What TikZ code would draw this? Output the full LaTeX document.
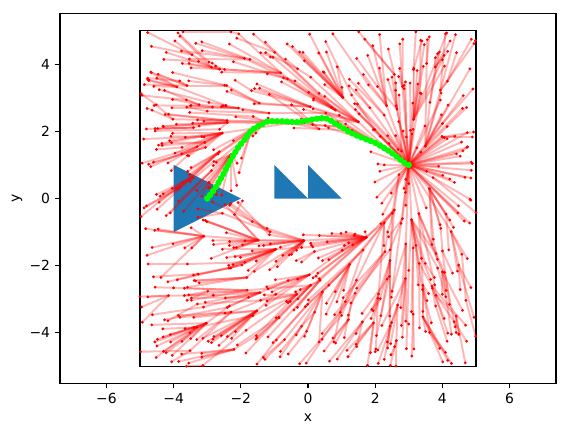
\documentclass[tikz,border=0pt]{standalone}
\usepackage{fontspec}
\setmainfont{DejaVu Sans}
\usetikzlibrary{decorations.markings}
\definecolor{obst}{RGB}{31,119,180}
\definecolor{pathgreen}{RGB}{0,255,0}
\tikzset{
  treeedge/.style={draw=red, opacity=0.28, line width=1.4pt},
  treedot/.style={fill=red},
  obstacle/.style={fill=obst},
  axframe/.style={line width=0.8pt},
  axtick/.style={line width=0.8pt},
  ticklab/.style={font=\fontsize{10}{12}\selectfont, inner sep=0pt},
  pathline/.style={draw=pathgreen, line width=2pt, line join=round,
     postaction={decorate, decoration={markings,
        mark=between positions 0 and 1 step 3.6pt with {\fill[pathgreen] (0,0) circle[radius=2.3pt];}}}},
}
\makeatletter
\newcount\rt@n \newcount\rt@j \newcount\rt@px \newcount\rt@py
\newcount\rt@dx \newcount\rt@dy \newcount\rt@d \newcount\rt@c
\newcount\rt@best \newcount\rt@bestj \newcount\rt@R \newcount\rt@samples
\newcount\rt@ax \newcount\rt@ay \newcount\rt@bx \newcount\rt@by
\newcount\rt@oa \newcount\rt@ob \newcount\rt@oc \newcount\rt@od
\newcount\rt@K \newcount\rt@newc
\newif\ifrt@free \newif\ifrt@ok \newif\ifrt@test
\def\rt@target{820}
\def\rt@X#1{\csname rt@x\number#1\endcsname}
\def\rt@Y#1{\csname rt@y\number#1\endcsname}
\def\rt@C#1{\csname rt@c\number#1\endcsname}
\def\rt@P#1{\csname rt@p\number#1\endcsname}
\def\rt@add#1#2#3#4{%
  \expandafter\edef\csname rt@x\the\rt@n\endcsname{\the\numexpr#1\relax}%
  \expandafter\edef\csname rt@y\the\rt@n\endcsname{\the\numexpr#2\relax}%
  \expandafter\edef\csname rt@c\the\rt@n\endcsname{\the\numexpr#3\relax}%
  \expandafter\edef\csname rt@p\the\rt@n\endcsname{\the\numexpr#4\relax}%
  \advance\rt@n by 1\relax}
\def\rt@absdist{%
  \ifnum\rt@dx<0 \rt@dx=-\rt@dx\fi
  \ifnum\rt@dy<0 \rt@dy=-\rt@dy\fi
  \ifnum\rt@dx>\rt@dy
    \rt@d=\numexpr(\rt@dx*123+\rt@dy*51)/128\relax
  \else
    \rt@d=\numexpr(\rt@dy*123+\rt@dx*51)/128\relax
  \fi}
\def\rt@sg#1{\ifnum#1<0 -1\else\ifnum#1>0 1\else 0 \fi\fi}
\def\rt@edge#1#2#3#4{%
  \ifrt@free
    \rt@oa=\numexpr(\rt@bx-\rt@ax)*(#2-\rt@ay)-(\rt@by-\rt@ay)*(#1-\rt@ax)\relax
    \rt@ob=\numexpr(\rt@bx-\rt@ax)*(#4-\rt@ay)-(\rt@by-\rt@ay)*(#3-\rt@ax)\relax
    \ifnum\numexpr\rt@sg\rt@oa*\rt@sg\rt@ob\relax<1
      \rt@oc=\numexpr(#3-#1)*(\rt@ay-#2)-(#4-#2)*(\rt@ax-#1)\relax
      \rt@od=\numexpr(#3-#1)*(\rt@by-#2)-(#4-#2)*(\rt@bx-#1)\relax
      \ifnum\numexpr\rt@sg\rt@oc*\rt@sg\rt@od\relax<1
        \rt@freefalse
      \fi
    \fi
  \fi}
\def\rt@segfree#1#2{%
  \rt@freetrue
  \rt@ax=\rt@px \rt@ay=\rt@py
  \rt@bx=#1\relax \rt@by=#2\relax
  \rt@testtrue
  \ifnum\rt@ax>200 \ifnum\rt@bx>200 \rt@testfalse\fi\fi
  \ifnum\rt@ax<-190 \ifnum\rt@bx<-190 \rt@testfalse\fi\fi
  \ifnum\rt@ay>215 \ifnum\rt@by>215 \rt@testfalse\fi\fi
  \ifnum\rt@ay<-95 \ifnum\rt@by<-95 \rt@testfalse\fi\fi
  \ifrt@test
    \rt@edge{-190}{-30}{-100}{-95}%
    \rt@edge{-100}{-95}{195}{-95}%
    \rt@edge{195}{-95}{200}{130}%
    \rt@edge{200}{130}{90}{200}%
    \rt@edge{90}{200}{-110}{215}%
    \rt@edge{-110}{215}{-175}{175}%
    \rt@edge{-175}{175}{-190}{-30}%
  \fi}
\def\rt@side#1#2#3#4{%
  \ifnum\numexpr(#3-#1)*(\rt@py-#2)-(#4-#2)*(\rt@px-#1)\relax<0 \rt@testfalse\fi}
\def\rt@inzone{%
  \rt@testtrue
  \rt@side{-190}{-30}{-100}{-95}%
  \rt@side{-100}{-95}{195}{-95}%
  \rt@side{195}{-95}{200}{130}%
  \rt@side{200}{130}{90}{200}%
  \rt@side{90}{200}{-110}{215}%
  \rt@side{-110}{215}{-175}{175}%
  \rt@side{-175}{175}{-190}{-30}%
  \ifrt@test \rt@okfalse\fi}
\def\rt@checkA{%
  \rt@dx=\numexpr\rt@px-\rt@X\rt@j\relax
  \rt@dy=\numexpr\rt@py-\rt@Y\rt@j\relax
  \rt@absdist
  \ifnum\rt@d<\rt@R
    \rt@c=\numexpr\rt@C\rt@j+\rt@d\relax
    \ifnum\rt@c<\rt@best
      \rt@segfree{\rt@X\rt@j}{\rt@Y\rt@j}%
      \ifrt@free \rt@best=\rt@c \rt@bestj=\rt@j \fi
    \fi
  \fi}
\def\rt@checkB{%
  \rt@dx=\numexpr\rt@px-\rt@X\rt@j\relax
  \rt@dy=\numexpr\rt@py-\rt@Y\rt@j\relax
  \rt@absdist
  \ifnum\rt@d<\rt@R
    \rt@c=\numexpr\rt@newc+\rt@d\relax
    \ifnum\rt@c<\rt@C\rt@j\relax
      \rt@segfree{\rt@X\rt@j}{\rt@Y\rt@j}%
      \ifrt@free
        \expandafter\edef\csname rt@c\the\rt@j\endcsname{\the\rt@c}%
        \expandafter\edef\csname rt@p\the\rt@j\endcsname{\the\numexpr\rt@n-1\relax}%
      \fi
    \fi
  \fi}
\def\rt@rewire{%
  \rt@newc=\rt@best
  \rt@j=\rt@K
  \loop\ifnum\rt@j<\numexpr\rt@n-1\relax
    \rt@checkB
    \advance\rt@j by 1
  \repeat}
\def\rt@setR{\ifnum\rt@n<150 \rt@R=300 \else\ifnum\rt@n<400 \rt@R=230 \else \rt@R=190 \fi\fi}
\def\rt@onesample{%
  \pgfmathrandominteger{\rt@tmp}{-500}{500}\rt@px=\rt@tmp\relax
  \pgfmathrandominteger{\rt@tmp}{-500}{500}\rt@py=\rt@tmp\relax
  \rt@oktrue
  \rt@inzone
  \ifrt@ok
    \rt@setR
    \rt@best=2147483647 \rt@bestj=-1 \rt@j=0
    \loop\ifnum\rt@j<\rt@n \rt@checkA \advance\rt@j by 1 \repeat
    \ifnum\rt@bestj>-1
      \rt@add{\rt@px}{\rt@py}{\rt@best}{\rt@bestj}%
      \rt@rewire
    \fi
  \fi}
\def\rt@run{%
  \ifnum\rt@n<\rt@target\relax
    \ifnum\rt@samples<6000
      \rt@onesample
      \advance\rt@samples by 1
      \expandafter\expandafter\expandafter\rt@run
    \fi
  \fi}
\def\rt@addpath#1#2{%
  \rt@px=#1\relax \rt@py=#2\relax
  \rt@j=\numexpr\rt@n-1\relax
  \rt@dx=\numexpr\rt@px-\rt@X\rt@j\relax
  \rt@dy=\numexpr\rt@py-\rt@Y\rt@j\relax
  \rt@absdist
  \rt@add{\rt@px}{\rt@py}{\rt@C\rt@j+\rt@d}{\rt@j}}
\def\rt@generate{%
  \pgfmathsetseed{4242}%
  \rt@n=0 \rt@samples=0
  \rt@add{300}{100}{0}{0}%
  \rt@addpath{290}{104}\rt@addpath{253}{133}\rt@addpath{239}{143}%
  \rt@addpath{200}{166}\rt@addpath{173}{176}\rt@addpath{143}{188}%
  \rt@addpath{114}{203}\rt@addpath{99}{213}\rt@addpath{74}{227}%
  \rt@addpath{64}{235}\rt@addpath{49}{240}\rt@addpath{24}{237}%
  \rt@addpath{-20}{229}\rt@addpath{-35}{227}\rt@addpath{-80}{230}%
  \rt@addpath{-119}{230}\rt@addpath{-149}{215}\rt@addpath{-169}{203}%
  \rt@addpath{-189}{175}\rt@addpath{-206}{155}\rt@addpath{-228}{119}%
  \rt@addpath{-251}{74}\rt@addpath{-278}{28}\rt@addpath{-300}{0}%
  \rt@K=\rt@n
  \rt@run}
\def\rt@drawtree{%
  \rt@j=1
  \loop\ifnum\rt@j<\rt@n
    \edef\rt@tmpa{\noexpand\draw[treeedge] (\rt@X\rt@j,\rt@Y\rt@j) -- (\rt@X{\rt@P\rt@j},\rt@Y{\rt@P\rt@j});}%
    \rt@tmpa
    \advance\rt@j by 1
  \repeat}
\def\rt@drawdots{%
  \rt@j=0
  \loop\ifnum\rt@j<\rt@n
    \edef\rt@tmpa{\noexpand\fill[treedot] (\rt@X\rt@j,\rt@Y\rt@j) circle[radius=1.1pt];}%
    \rt@tmpa
    \advance\rt@j by 1
  \repeat}
\let\RTgenerate\rt@generate
\let\RTdrawtree\rt@drawtree
\let\RTdrawdots\rt@drawdots
\makeatother
\begin{document}
\begin{tikzpicture}[x=24.192pt,y=24.192pt]
\useasboundingbox (-9.1667,-7.0685) rectangle (7.7679,5.9077);
\fill[white] (-9.1667,-7.0685) rectangle (7.7679,5.9077);
\RTgenerate
\draw[line width=1.4pt] (-5,-5) rectangle (5,5);
\fill[obstacle] (-4,1) -- (-4,-1) -- (-2,0) -- cycle;
\fill[obstacle] (-1,0) -- (0,0) -- (-1,1) -- cycle;
\fill[obstacle] (0,0) -- (1,0) -- (0,1) -- cycle;
\begin{scope}[x=0.24192pt,y=0.24192pt]
 \RTdrawtree
 \RTdrawdots
\end{scope}
\draw[pathline] plot coordinates {(3.00,1.00) (2.90,1.04) (2.53,1.33) (2.39,1.43) (2.00,1.66) (1.73,1.76) (1.43,1.88) (1.14,2.03) (0.99,2.13) (0.74,2.27) (0.64,2.35) (0.49,2.40) (0.24,2.37) (-0.20,2.29) (-0.35,2.27) (-0.80,2.30) (-1.19,2.30) (-1.49,2.15) (-1.69,2.03) (-1.89,1.75) (-2.06,1.55) (-2.28,1.19) (-2.51,0.74) (-2.78,0.28) (-3.00,0.00)};
\fill[pathgreen] (-3,0) circle[radius=2.3pt];
\draw[axframe] (-7.38,-5.5) rectangle (7.38,5.5);
\foreach \v/\t in {-6/−6,-4/−4,-2/−2,0/0,2/2,4/4,6/6} {
  \draw[axtick] (\v,-5.5) -- ++(0,-3.5pt);
  \node[ticklab, anchor=north] (xt\v) at ([yshift=-7pt]\v,-5.5) {\t};
}
\foreach \v/\t in {-4/−4,-2/−2,0/0,2/2,4/4} {
  \draw[axtick] (-7.38,\v) -- ++(-3.5pt,0);
  \node[ticklab, anchor=east] (yt\v) at ([xshift=-7pt]-7.38,\v) {\t};
}
\node[ticklab] (xl) at (0,-6.53) {x};
\node[ticklab, rotate=90] (yl) at (-8.66,0) {y};
\end{tikzpicture}
\end{document}
